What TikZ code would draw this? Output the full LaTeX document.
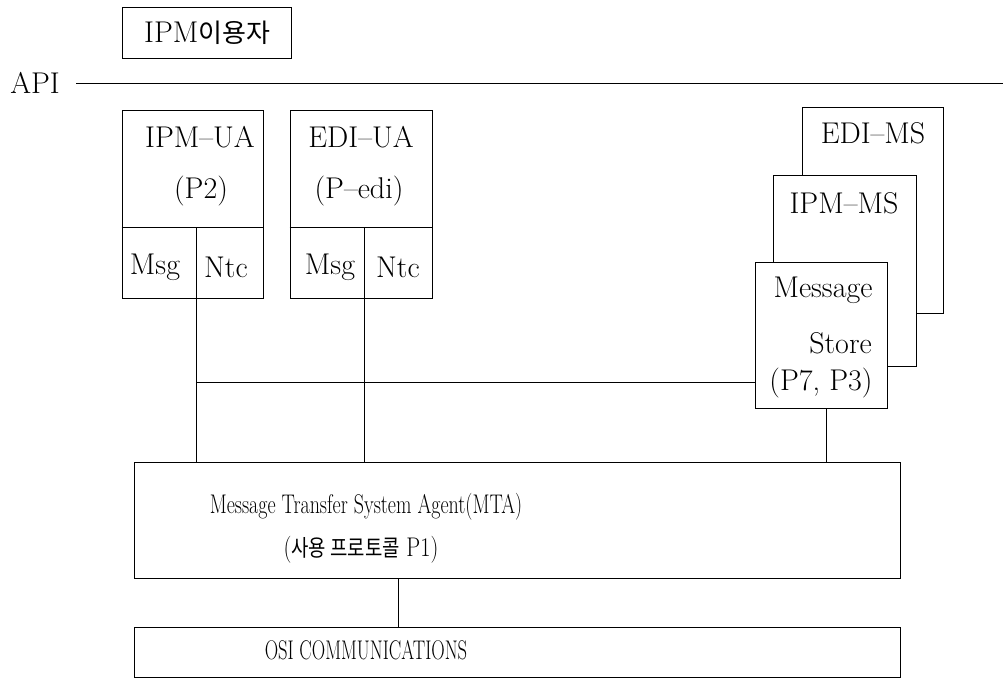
\documentclass[tikz,border=0pt]{standalone}
\usepackage{fontspec}
\usepackage{graphicx}
\newfontfamily\kr{Noto Sans CJK KR}
\begin{document}
\begin{tikzpicture}[x=1pt,y=-1pt,
  box/.style={draw,line width=1pt,fill=white,inner sep=0pt},
  lbl/.style={inner sep=0pt,font=\fontsize{30}{34}\selectfont},
  wide/.style={inner sep=0pt,font=\fontsize{27}{31}\selectfont},
  wire/.style={line width=1pt}]
\useasboundingbox (0,0) rectangle (1007,678);
% top user box
\node[box,minimum width=169pt,minimum height=51pt] (user) at (206.5,32.5) {};
\node[lbl,anchor=west] (usert) at (144,33) {IPM{\kr\fontsize{26}{30}\selectfont 이용자}};
% API line
\node[lbl] (api) at (35,83) {API};
\coordinate (apiL) at (76,83);
\coordinate (apiR) at (1003,83);
\draw[wire] (apiL) -- (apiR);
% IPM-UA
\node[box,minimum width=141pt,minimum height=188pt] (ipmua) at (192.5,204) {};
\draw[wire] (ipmua.west |- 0,227) coordinate (h1a) -- (ipmua.east |- 0,227) coordinate (h1b);
\coordinate (d1t) at (196,227);
\coordinate (d1) at (196,298);
\draw[wire] (d1t) -- (d1);
\node[lbl] (ipmuat) at (200,137) {IPM--UA};
\node[lbl] (p2) at (201,191) {(P2)};
\node[lbl] (msg1) at (155,267) {Msg};
\node[lbl] (ntc1) at (226,267) {Ntc};
% EDI-UA
\node[box,minimum width=142pt,minimum height=188pt] (ediua) at (361,204) {};
\draw[wire] (ediua.west |- 0,227) coordinate (h2a) -- (ediua.east |- 0,227) coordinate (h2b);
\coordinate (d2t) at (364,227);
\coordinate (d2) at (364,298);
\draw[wire] (d2t) -- (d2);
\node[lbl] (ediuat) at (361,137) {EDI--UA};
\node[lbl] (pedi) at (359,191) {(P--edi)};
\node[lbl] (msg2) at (330,267) {Msg};
\node[lbl] (ntc2) at (398,267) {Ntc};
% Message stores
\node[box,minimum width=141pt,minimum height=206pt] (edims) at (872.5,210) {};
\node[lbl] (edimst) at (873,133) {EDI--MS};
\node[box,minimum width=143pt,minimum height=191pt] (ipmms) at (844.5,270.5) {};
\node[lbl] (ipmmst) at (844,203) {IPM--MS};
\node[box,minimum width=132pt,minimum height=146pt] (ms) at (821,335) {};
\node[lbl] (mst1) at (823,290) {Message};
\node[lbl,anchor=east] (mst2) at (872,343) {Store};
\node[lbl] (mst3) at (821,383) {(P7, P3)};
% MTA
\node[box,minimum width=766pt,minimum height=116pt] (mta) at (517,520) {};
\node[wide] (mtat1) at (366,507) {\scalebox{0.74}[1]{Message Transfer System Agent(MTA)}};
\node[wide] (mtat2) at (361,550) {\scalebox{0.82}[1]{({\kr\fontsize{23}{26}\selectfont 사용 프로토콜} P1)}};
% OSI
\node[box,minimum width=766pt,minimum height=50pt] (osi) at (517,652) {};
\node[wide] (osit) at (366,650) {\scalebox{0.69}[1]{OSI COMMUNICATIONS}};
% connectors
\draw[wire] (d1) -- (d1 |- mta.north);
\draw[wire] (d2) -- (d2 |- mta.north);
\coordinate (hj) at (196,382);
\draw[wire] (hj) -- (hj -| ms.west);
\coordinate (msb) at (826,408);
\draw[wire] (msb) -- (msb |- mta.north);
\coordinate (mtab) at (398,578);
\draw[wire] (mtab) -- (mtab |- osi.north);
\end{tikzpicture}
\end{document}
